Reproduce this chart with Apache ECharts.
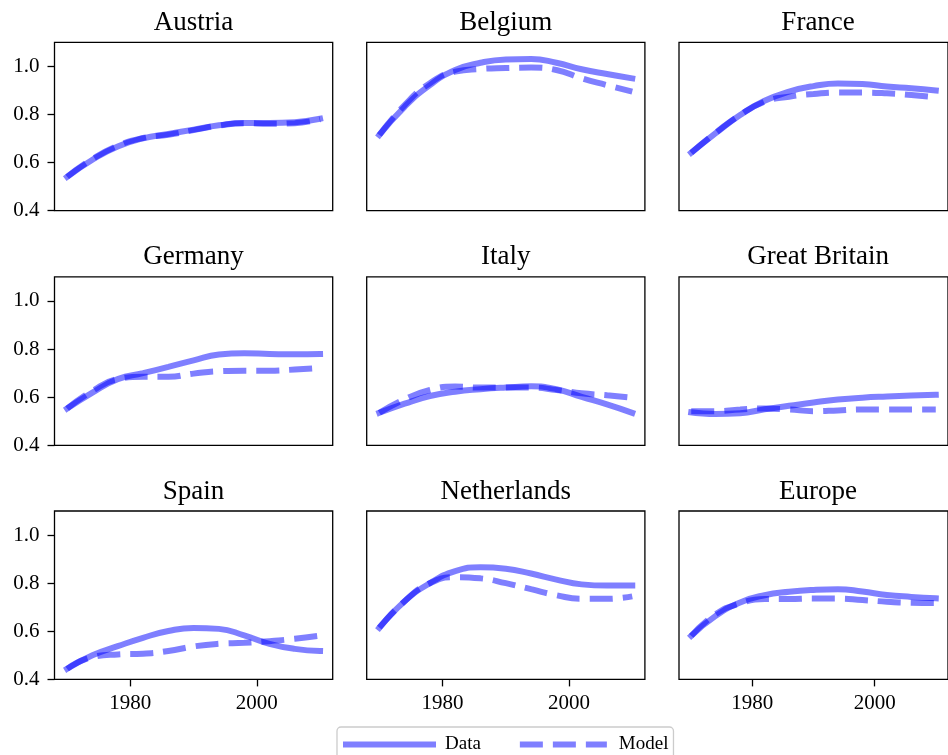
<!DOCTYPE html>
<html>
<head>
<meta charset="utf-8">
<script src="https://cdn.jsdelivr.net/npm/echarts@6/dist/echarts.min.js"></script>
<style>
  html, body { margin: 0; padding: 0; background: #ffffff; }
  #chart { width: 948px; height: 755px; }
</style>
</head>
<body>
<div id="chart"></div>
<script>
// Sample years shared by every panel
const years = [1970, 1974, 1978, 1982, 1986, 1990, 1994, 1998, 2002, 2006, 2010];

// Panel titles, in reading order (3 x 3)
const countries = ['Austria', 'Belgium', 'France', 'Germany', 'Italy', 'Great Britain', 'Spain', 'Netherlands', 'Europe'];

// Observed ("Data") and fitted ("Model") series per panel
const austriaData      = [0.541, 0.612, 0.667, 0.701, 0.719, 0.737, 0.755, 0.765, 0.765, 0.768, 0.782];
const austriaModel     = [0.541, 0.615, 0.670, 0.702, 0.716, 0.735, 0.754, 0.764, 0.761, 0.764, 0.780];
const belgiumData      = [0.715, 0.832, 0.922, 0.985, 1.015, 1.029, 1.031, 1.015, 0.988, 0.968, 0.950];
const belgiumModel     = [0.715, 0.839, 0.930, 0.978, 0.989, 0.993, 0.995, 0.985, 0.950, 0.922, 0.895];
const franceData       = [0.641, 0.722, 0.798, 0.857, 0.895, 0.918, 0.929, 0.927, 0.916, 0.909, 0.900];
const franceModel      = [0.641, 0.724, 0.798, 0.853, 0.874, 0.885, 0.891, 0.891, 0.888, 0.881, 0.872];
const germanyData      = [0.553, 0.619, 0.675, 0.700, 0.726, 0.753, 0.777, 0.783, 0.780, 0.778, 0.779];
const germanyModel     = [0.553, 0.626, 0.675, 0.685, 0.685, 0.698, 0.708, 0.710, 0.710, 0.715, 0.722];
const italyData        = [0.535, 0.573, 0.605, 0.623, 0.633, 0.640, 0.645, 0.633, 0.601, 0.570, 0.535];
const italyModel       = [0.535, 0.591, 0.630, 0.644, 0.640, 0.640, 0.640, 0.630, 0.616, 0.608, 0.598];
const britainData      = [0.537, 0.530, 0.533, 0.550, 0.564, 0.578, 0.590, 0.598, 0.603, 0.607, 0.610];
const britainModel     = [0.542, 0.542, 0.549, 0.553, 0.549, 0.542, 0.545, 0.549, 0.549, 0.549, 0.549];
const spainData        = [0.444, 0.500, 0.538, 0.573, 0.601, 0.614, 0.610, 0.583, 0.548, 0.527, 0.518];
const spainModel       = [0.444, 0.493, 0.504, 0.507, 0.518, 0.537, 0.548, 0.552, 0.559, 0.569, 0.582];
const netherlandsData  = [0.615, 0.725, 0.800, 0.850, 0.866, 0.860, 0.840, 0.815, 0.795, 0.790, 0.790];
const netherlandsModel = [0.615, 0.725, 0.800, 0.825, 0.820, 0.800, 0.775, 0.750, 0.735, 0.735, 0.745];
const europeData       = [0.581, 0.664, 0.720, 0.750, 0.764, 0.772, 0.775, 0.765, 0.751, 0.743, 0.737];
const europeModel      = [0.581, 0.671, 0.716, 0.734, 0.734, 0.736, 0.736, 0.730, 0.723, 0.719, 0.718];

const dataSeries  = [austriaData, belgiumData, franceData, germanyData, italyData, britainData, spainData, netherlandsData, europeData];
const modelSeries = [austriaModel, belgiumModel, franceModel, germanyModel, italyModel, britainModel, spainModel, netherlandsModel, europeModel];

// Axis ticks and legend entries
const xTicks = [1980, 2000];
const yTicks = [0.4, 0.6, 0.8, 1.0];
const legendNames = ['Data', 'Model'];

// Panel geometry
const colLeft = [54.5, 366.7, 679];
const rowTop = [42.3, 276.9, 511];
const panelW = 278.2;
const panelH = 168.4;

const FONT = 'Liberation Serif';
const LINE_COLOR = 'rgba(0, 0, 255, 0.5)';

const grids = [], xAxes = [], yAxes = [], titles = [], series = [];

countries.forEach((name, i) => {
  const r = Math.floor(i / 3), c = i % 3;
  const showX = r === 2, showY = c === 0;
  grids.push({
    left: colLeft[c], top: rowTop[r], width: panelW, height: panelH,
    show: true, borderColor: '#000', borderWidth: 1.3, backgroundColor: '#fff'
  });
  xAxes.push({
    type: 'value', gridIndex: i, min: 1968, max: 2012,
    axisLine: { show: false },
    splitLine: { show: false },
    axisTick: { show: showX, customValues: xTicks, length: 7, lineStyle: { color: '#000', width: 1.3 } },
    axisLabel: {
      show: showX, customValues: xTicks, margin: 14, color: '#000', fontFamily: FONT, fontSize: 21,
      formatter: v => String(v)
    }
  });
  yAxes.push({
    type: 'value', gridIndex: i, min: 0.4, max: 1.1,
    axisLine: { show: false },
    splitLine: { show: false },
    axisTick: { show: showY, customValues: yTicks, length: 7, lineStyle: { color: '#000', width: 1.3 } },
    axisLabel: {
      show: showY, customValues: yTicks, margin: 15, color: '#000', fontFamily: FONT, fontSize: 21,
      formatter: v => v.toFixed(1)
    }
  });
  titles.push({
    text: name, left: colLeft[c] + panelW / 2, top: rowTop[r] - 33, textAlign: 'center', padding: 0,
    textStyle: { fontFamily: FONT, fontSize: 27, fontWeight: 'normal', color: '#000' }
  });
  series.push({
    name: legendNames[0], type: 'line', xAxisIndex: i, yAxisIndex: i,
    data: years.map((y, k) => [y, dataSeries[i][k]]),
    smooth: true, symbol: 'none', silent: true,
    itemStyle: { color: LINE_COLOR },
    lineStyle: { color: LINE_COLOR, width: 6, cap: 'square' }
  });
  series.push({
    name: legendNames[1], type: 'line', xAxisIndex: i, yAxisIndex: i,
    data: years.map((y, k) => [y, modelSeries[i][k]]),
    smooth: true, symbol: 'none', silent: true,
    itemStyle: { color: LINE_COLOR },
    lineStyle: { color: LINE_COLOR, width: 6, type: [23, 10], cap: 'butt' }
  });
});

const chart = echarts.init(document.getElementById('chart'), null, { renderer: 'canvas' });
chart.setOption({
  animation: false,
  backgroundColor: '#fff',
  title: titles,
  grid: grids,
  xAxis: xAxes,
  yAxis: yAxes,
  legend: {
    data: legendNames,
    left: 337, top: 727,
    padding: [8, 5, 8, 6],
    itemWidth: 87, itemHeight: 14, itemGap: 36,
    backgroundColor: '#fff',
    borderColor: '#cccccc', borderWidth: 1.3, borderRadius: 4,
    itemStyle: { opacity: 0 },
    lineStyle: { width: 6 },
    selectedMode: false,
    textStyle: { fontFamily: FONT, fontSize: 19, color: '#000', padding: [0, 0, 0, 7] }
  },
  series: series
});
</script>
</body>
</html>
